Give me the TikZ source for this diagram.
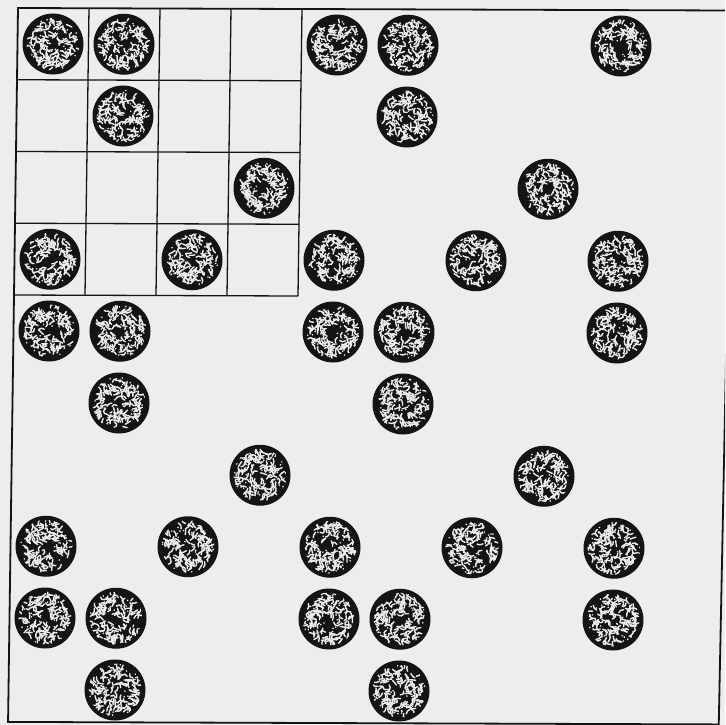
\documentclass[tikz,border=0pt]{standalone}
\definecolor{paper}{RGB}{237,237,235}
\definecolor{ink}{RGB}{20,20,22}
\tikzset{
  boxline/.style={draw=ink, line width=1.8pt},
  gridline/.style={draw=ink, line width=1.3pt},
  worm/.style={white!92!black, line width=1.4pt, line cap=round, line join=round},
  speck/.style={white!92!black},
  blob/.pic={
    \fill[black!92] (0,0) circle (30.5pt);
    \begin{scope}
      \clip (0,0) circle (26.5pt);
      \foreach \k in {1,...,115}{
        \pgfmathsetmacro\bR{4+20*sqrt(rnd)}
        \pgfmathsetmacro\bA{360*rnd}
        \pgfmathsetmacro\bB{360*rnd}
        \pgfmathsetmacro\bC{\bB+140*(rnd-0.5)}
        \draw[worm] (\bA:\bR pt) -- ++(\bB:3pt) -- ++(\bC:3pt);
      }
      \foreach \k in {1,...,55}{
        \pgfmathsetmacro\bR{3+23*sqrt(rnd)}
        \pgfmathsetmacro\bA{360*rnd}
        \fill[speck] (\bA:\bR pt) circle (0.9pt);
      }
    \end{scope}
  }
}
\begin{document}
\begin{tikzpicture}[x=1pt,y=1pt]
\useasboundingbox (0,0) rectangle (725,-725);
\fill[paper] (0,0) rectangle (725,-725);
\clip (0,0) rectangle (725,-725);
\begin{scope}[shift={(18pt,-8pt)}, x={(71pt,-0.25pt)}, y={(-1pt,-71.75pt)}]
  \coordinate (tl) at (0,0);
  \coordinate (tr) at (10.07,0);
  \coordinate (br) at (10.01,9.95);
  \coordinate (bl) at (0,9.95);
  \draw[boxline] (tl) -- (tr) -- (br) -- (bl) -- cycle;
  \foreach \i in {1,2,3,4}{
    \draw[gridline] (\i,0) -- (\i,4);
    \draw[gridline] (0,\i) -- (4,\i);
  }
  \foreach \ox in {0,4,8}{
    \foreach \oy in {0,4,8}{
      \foreach \c/\r in {0/0,1/0,1/1,3/2,0/3,2/3}{
        \pgfmathtruncatemacro\cc{\c+\ox}
        \pgfmathtruncatemacro\rw{\r+\oy}
        \ifnum\cc<9 \ifnum\rw<10
          \pgfmathtruncatemacro\sd{\cc*13+\rw*7+3}
          \pgfmathsetseed{\sd}
          \pic at (\cc+0.5,\rw+0.5) {blob};
        \fi\fi
      }
    }
  }
\end{scope}
\end{tikzpicture}
\end{document}
